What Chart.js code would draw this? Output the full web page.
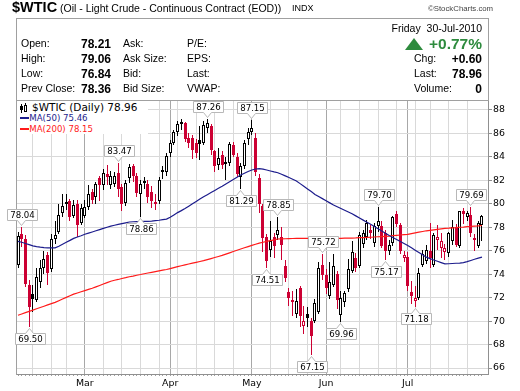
<!DOCTYPE html>
<html>
<head>
<meta charset="utf-8">
<script src="https://cdn.jsdelivr.net/npm/chart.js@4.4.1/dist/chart.umd.min.js"></script>
<style>
  html, body { margin: 0; padding: 0; background: #fff; }
  #wrap { position: relative; width: 520px; height: 391px; overflow: hidden; font-family: "Liberation Sans", Arial, sans-serif; color: #000; }
  #c { position: absolute; left: 0; top: 0; }
  .t { position: absolute; white-space: nowrap; line-height: 1; font-size: 10.5px; }
  .b { font-weight: bold; font-size: 12px; }
  .r { text-align: right; }
  #box { position: absolute; left: 16px; top: 18px; width: 473px; height: 83px; box-sizing: border-box; border: 1px solid #a0a0a0; }
  #legend { position: absolute; left: 17px; top: 101px; width: 131px; height: 33px; background: #fff; font-family: "DejaVu Sans", sans-serif; }
  #legend .t { font-family: "DejaVu Sans", sans-serif; }
  #tri { position: absolute; left: 405px; top: 38px; width: 0; height: 0; border-left: 9px solid transparent; border-right: 9px solid transparent; border-bottom: 12px solid #2e8b3e; }
</style>
</head>
<body>
<div id="wrap">
  <canvas id="c" width="520" height="391"></canvas>

  <div id="box"></div>
  <span class="t" style="left:12px;top:-0.5px;font-size:14.5px;font-weight:bold;">$WTIC</span>
  <span class="t" style="left:60px;top:2.5px;">(Oil - Light Crude - Continuous Contract (EOD))</span>
  <span class="t" style="left:292px;top:3.5px;font-size:9px;">INDX</span>
  <span class="t" style="left:428px;top:4.5px;font-size:7.8px;color:#444;">©StockCharts.com</span>

  <span class="t r" style="right:38px;top:22.5px;">Friday&nbsp; 30-Jul-2010</span>

  <span class="t" style="left:21px;top:38.2px;">Open:</span>
  <span class="t" style="left:21px;top:53.2px;">High:</span>
  <span class="t" style="left:21px;top:68.2px;">Low:</span>
  <span class="t" style="left:21px;top:83.2px;">Prev Close:</span>

  <span class="t b" style="left:81px;top:37.5px;">78.21</span>
  <span class="t b" style="left:81px;top:52.5px;">79.06</span>
  <span class="t b" style="left:81px;top:67.5px;">76.84</span>
  <span class="t b" style="left:81px;top:82.5px;">78.36</span>

  <span class="t" style="left:123px;top:38.2px;">Ask:</span>
  <span class="t" style="left:123px;top:53.2px;">Ask Size:</span>
  <span class="t" style="left:123px;top:68.2px;">Bid:</span>
  <span class="t" style="left:123px;top:83.2px;">Bid Size:</span>

  <span class="t" style="left:187px;top:38.2px;">P/E:</span>
  <span class="t" style="left:187px;top:53.2px;">EPS:</span>
  <span class="t" style="left:187px;top:68.2px;">Last:</span>
  <span class="t" style="left:187px;top:83.2px;">VWAP:</span>

  <div id="tri"></div>
  <span class="t b r" style="right:38px;top:35.8px;font-size:15.5px;color:#2e8b3e;">+0.77%</span>
  <span class="t" style="left:414px;top:53.2px;">Chg:</span>
  <span class="t" style="left:414px;top:68.2px;">Last:</span>
  <span class="t" style="left:414px;top:83.2px;">Volume:</span>
  <span class="t b r" style="right:38px;top:52.5px;">+0.60</span>
  <span class="t b r" style="right:38px;top:67.5px;">78.96</span>
  <span class="t b r" style="right:38px;top:82.5px;">0</span>

  <div id="legend">
    <span style="position:absolute;left:4px;top:3px;width:1px;height:9px;background:#000;"></span>
    <span style="position:absolute;left:3px;top:5px;width:3px;height:4px;background:#000;"></span>
    <span style="position:absolute;left:8px;top:2px;width:1px;height:9px;background:#000;"></span>
    <span style="position:absolute;left:7px;top:4px;width:1px;height:5px;border:1px solid #000;background:#fff;"></span>
    <span class="t" style="left:15px;top:1.4px;font-size:10.5px;">$WTIC (Daily) 78.96</span>
    <span style="position:absolute;left:3px;top:16px;width:9px;height:2px;background:#1c1c8c;"></span>
    <span class="t" style="left:12.3px;top:13.1px;font-size:8.6px;color:#1c1c8c;">MA(50) 75.46</span>
    <span style="position:absolute;left:3px;top:27px;width:9px;height:2px;background:#ff1a1a;"></span>
    <span class="t" style="left:12.3px;top:24.1px;font-size:8.6px;color:#ff1a1a;">MA(200) 78.15</span>
  </div>
</div>

<script>
// trading days shown (MM-DD, 2010)
const days = [
  '02-02','02-03','02-04','02-05','02-08','02-09','02-10','02-11','02-12','02-16','02-17','02-18','02-19','02-22','02-23','02-24','02-25','02-26',
  '03-01','03-02','03-03','03-04','03-05','03-08','03-09','03-10','03-11','03-12','03-15','03-16','03-17','03-18','03-19','03-22','03-23','03-24','03-25','03-26','03-29','03-30','03-31',
  '04-01','04-02','04-05','04-06','04-07','04-08','04-09','04-12','04-13','04-14','04-15','04-16','04-19','04-20','04-21','04-22','04-23','04-26','04-27','04-28','04-29','04-30',
  '05-03','05-04','05-05','05-06','05-07','05-10','05-11','05-12','05-13','05-14','05-17','05-18','05-19','05-20','05-21','05-24','05-25','05-26','05-27','05-28',
  '06-01','06-02','06-03','06-04','06-07','06-08','06-09','06-10','06-11','06-14','06-15','06-16','06-17','06-18','06-21','06-22','06-23','06-24','06-25','06-28','06-29','06-30',
  '07-01','07-02','07-06','07-07','07-08','07-09','07-12','07-13','07-14','07-15','07-16','07-19','07-20','07-21','07-22','07-23','07-26','07-27','07-28','07-29','07-30'
];

const opens = [
  74.8, 77.4, 77.0, 73.1, 72.3, 71.8, 73.3, 74.5, 75.6, 74.4,
  77.0, 77.6, 79.2, 80.0, 80.2, 79.0, 80.0, 78.4, 79.0, 79.7,
  81.0, 80.6, 82.2, 81.6, 82.5, 81.6, 81.7, 82.6, 81.4, 80.1,
  82.2, 83.2, 82.4, 80.8, 81.95, 81.7, 81.0, 80.0, 80.2, 82.9,
  82.75, 84.3, 85.2, 86.1, 86.95, 86.9, 85.6, 85.6, 85.2, 85.4,
  85.2, 86.5, 86.6, 84.5, 83.3, 84.2, 83.6, 83.5, 85.0, 84.0,
  82.3, 83.2, 85.5, 86.1, 85.6, 82.2, 79.8, 77.2, 76.1, 77.2,
  77.3, 77.2, 74.7, 72.5, 71.8, 70.6, 72.8, 69.6, 70.6, 70.0,
  70.0, 70.8, 74.8, 73.9, 72.1, 73.1, 74.0, 70.55, 71.6, 72.7,
  74.3, 75.4, 74.7, 76.6, 77.2, 77.8, 76.65, 78.1, 78.1, 77.5,
  75.95, 76.65, 79.1, 78.2, 75.4, 75.5, 72.5, 71.75, 72.0, 74.8,
  75.1, 76.0, 74.8, 76.9, 76.2, 75.9, 75.8, 76.8, 78.0, 76.4,
  79.4, 78.9, 79.06, 77.1, 76.4, 78.21
];
const highs = [
  77.6, 78.04, 77.3, 73.5, 73.1, 74.5, 75.2, 76.0, 75.9, 77.4,
  78.5, 80.0, 80.8, 80.8, 80.4, 80.3, 80.3, 80.0, 80.3, 81.6,
  81.3, 81.9, 82.4, 83.0, 83.3, 82.8, 82.7, 83.47, 81.7, 82.0,
  83.4, 83.4, 82.6, 82.0, 82.3, 82.0, 81.5, 80.8, 82.3, 83.2,
  84.3, 85.4, 86.3, 87.1, 87.2, 87.0, 86.0, 85.9, 85.5, 86.6,
  87.1, 87.26, 86.8, 84.6, 84.8, 84.5, 84.0, 85.3, 85.3, 84.3,
  83.5, 85.4, 86.5, 87.15, 86.0, 82.5, 80.0, 77.4, 78.5, 77.5,
  78.85, 78.0, 75.2, 72.8, 72.6, 72.7, 73.0, 71.3, 71.2, 70.3,
  71.9, 75.0, 75.72, 74.4, 75.0, 75.7, 74.3, 72.6, 72.6, 75.3,
  76.8, 75.8, 77.6, 77.8, 78.6, 78.2, 78.4, 79.70, 78.5, 77.8,
  76.9, 79.0, 79.4, 78.4, 76.0, 75.9, 73.4, 73.0, 74.5, 76.1,
  76.5, 78.4, 77.5, 78.2, 77.5, 76.6, 77.6, 78.6, 78.3, 79.4,
  79.6, 79.4, 79.69, 77.4, 78.5, 79.06
];
const lows = [
  74.5, 76.3, 72.9, 69.50, 70.8, 71.6, 72.8, 74.0, 73.1, 74.2,
  76.6, 77.4, 78.9, 79.5, 78.5, 78.8, 77.2, 78.2, 78.8, 79.5,
  80.0, 80.0, 80.2, 81.2, 81.6, 81.3, 81.4, 80.6, 79.4, 79.8,
  81.8, 81.9, 80.6, 78.86, 81.3, 80.1, 79.6, 79.5, 80.0, 82.1,
  82.4, 84.0, 85.0, 85.8, 86.3, 85.3, 84.8, 83.8, 83.9, 83.7,
  85.0, 86.0, 84.2, 82.75, 82.9, 83.0, 82.0, 83.2, 84.0, 82.3,
  81.29, 83.0, 85.0, 85.9, 82.4, 79.2, 75.9, 74.51, 75.5, 75.4,
  76.9, 75.2, 73.3, 71.3, 70.4, 70.3, 69.5, 68.9, 69.5, 67.15,
  69.8, 70.6, 73.5, 72.3, 71.9, 72.9, 71.0, 69.96, 71.2, 72.5,
  74.1, 74.2, 74.5, 76.2, 76.9, 77.0, 76.3, 77.6, 76.2, 75.17,
  75.6, 76.4, 78.0, 75.7, 75.0, 72.6, 71.5, 71.18, 71.8, 74.6,
  74.9, 74.5, 74.6, 76.1, 75.4, 75.2, 75.5, 76.5, 76.3, 76.2,
  78.3, 78.5, 77.2, 76.0, 76.2, 76.84
];
const closes = [
  77.23, 76.98, 73.14, 71.19, 71.89, 73.75, 74.52, 75.28, 74.13, 77.01,
  77.33, 79.06, 79.81, 80.16, 78.86, 79.94, 78.17, 79.66, 79.70, 80.87,
  80.3, 81.7, 81.6, 82.6, 82.3, 82.35, 82.4, 81.3, 80.0, 81.8,
  83.1, 82.4, 80.9, 81.7, 81.85, 80.6, 80.2, 80.15, 82.0, 82.7,
  84.1, 85.2, 86.1, 86.8, 86.85, 85.5, 85.2, 84.6, 84.34, 85.1,
  86.7, 86.9, 84.6, 83.2, 83.9, 83.3, 83.4, 85.12, 84.2, 82.5,
  83.2, 85.17, 86.15, 86.5, 82.74, 79.97, 77.11, 75.11, 76.8, 76.37,
  77.8, 76.5, 73.7, 72.0, 71.6, 71.7, 70.4, 70.0, 70.3, 68.75,
  71.51, 74.55, 73.97, 72.8, 73.3, 74.7, 71.8, 72.0, 72.4, 74.4,
  75.9, 74.5, 77.3, 77.5, 78.4, 77.5, 78.1, 78.5, 76.4, 75.95,
  76.5, 78.86, 78.26, 75.94, 75.63, 73.0, 72.14, 71.98, 74.07, 75.7,
  76.09, 75.4, 77.3, 77.2, 76.8, 76.2, 77.5, 78.0, 76.5, 79.35,
  79.1, 79.2, 77.50, 76.9, 78.36, 78.96
];

const ma50 = [
  76.80, 76.72, 76.62, 76.52, 76.42, 76.35, 76.30, 76.27, 76.25, 76.24,
  76.25, 76.38, 76.55, 76.72, 76.88, 77.05, 77.17, 77.28, 77.40, 77.50,
  77.60, 77.70, 77.80, 77.90, 78.00, 78.10, 78.17, 78.24, 78.31, 78.38,
  78.45, 78.47, 78.48, 78.49, 78.50, 78.50, 78.52, 78.56, 78.60, 78.65,
  78.70, 78.85, 79.05, 79.25, 79.42, 79.60, 79.80, 80.00, 80.20, 80.40,
  80.60, 80.78, 80.96, 81.14, 81.32, 81.50, 81.69, 81.88, 82.07, 82.26,
  82.45, 82.60, 82.75, 82.88, 82.97, 83.00, 82.95, 82.88, 82.80, 82.72,
  82.65, 82.52, 82.38, 82.24, 82.10, 81.95, 81.72, 81.50, 81.27, 81.04,
  80.80, 80.62, 80.44, 80.26, 80.08, 79.90, 79.75, 79.60, 79.45, 79.30,
  79.15, 78.97, 78.79, 78.61, 78.43, 78.25, 78.06, 77.87, 77.68, 77.49,
  77.30, 77.13, 76.96, 76.79, 76.62, 76.45, 76.25, 76.05, 75.85, 75.65,
  75.45, 75.33, 75.21, 75.10, 74.99, 74.88, 74.89, 74.91, 74.93, 74.95,
  74.98, 75.07, 75.17, 75.27, 75.37, 75.46
];
const ma200 = [
  70.50, 70.61, 70.72, 70.83, 70.94, 71.05, 71.16, 71.27, 71.38, 71.49,
  71.60, 71.74, 71.88, 72.02, 72.16, 72.30, 72.40, 72.50, 72.60, 72.70,
  72.80, 72.92, 73.04, 73.16, 73.28, 73.40, 73.48, 73.55, 73.63, 73.70,
  73.78, 73.84, 73.91, 73.97, 74.04, 74.10, 74.16, 74.22, 74.28, 74.34,
  74.40, 74.48, 74.56, 74.64, 74.72, 74.80, 74.87, 74.94, 75.01, 75.08,
  75.15, 75.24, 75.33, 75.42, 75.51, 75.60, 75.71, 75.82, 75.93, 76.04,
  76.15, 76.25, 76.35, 76.45, 76.55, 76.65, 76.72, 76.79, 76.86, 76.93,
  77.00, 77.01, 77.02, 77.03, 77.04, 77.05, 77.05, 77.05, 77.05, 77.05,
  77.05, 77.05, 77.05, 77.05, 77.05, 77.05, 77.06, 77.06, 77.07, 77.07,
  77.08, 77.09, 77.11, 77.12, 77.14, 77.15, 77.17, 77.19, 77.21, 77.23,
  77.25, 77.28, 77.31, 77.34, 77.37, 77.40, 77.46, 77.52, 77.58, 77.64,
  77.70, 77.74, 77.78, 77.82, 77.86, 77.90, 77.92, 77.95, 77.97, 78.00,
  78.02, 78.05, 78.07, 78.10, 78.12, 78.15
];

const priceTicks = [66, 68, 70, 72, 74, 76, 78, 80, 82, 84, 86, 88];
const monthNames = ['Jan','Feb','Mar','Apr','May','Jun','Jul','Aug','Sep','Oct','Nov','Dec'];

// high / low callouts (index into the day list)
const calloutIdx  = [1, 3, 27, 33, 51, 60, 63, 67, 70, 79, 82, 87, 97, 99, 107, 122];
const calloutSide = ['high','low','high','low','high','low','high','low','high','low','high','low','high','low','low','high'];

const UP = '#000000';
const DOWN = '#cc0033';

const idx = days.map((d, i) => i);
const candleColor = closes.map((c, i) => (i === 0 || c >= closes[i - 1]) ? UP : DOWN);

const dow = d => new Date('2010-' + d + 'T00:00:00Z').getUTCDay();
const monthStart = {};
const weekStart = new Set();
days.forEach((d, i) => {
  if (i === 0) return;
  const m = +d.slice(0, 2);
  if (m !== +days[i - 1].slice(0, 2)) monthStart[i] = monthNames[m - 1];
  else if (dow(d) < dow(days[i - 1])) weekStart.add(i);
});

// snap bars onto whole pixels so wicks stay 1px sharp
const crispBars = {
  id: 'crispBars',
  afterDatasetsUpdate(chart) {
    chart.getSortedVisibleDatasetMetas().forEach(meta => {
      if (meta.type !== 'bar') return;
      const minH = meta.controller.getDataset().label === 'body' ? 2 : 1;
      meta.data.forEach(el => {
        let a = Math.round(el.y), b = Math.round(el.base);
        if (Math.abs(a - b) < minH) { if (a <= b) b = a + minH; else a = b + minH; }
        el.x = Math.floor(el.x) + 0.5;
        el.y = a;
        el.base = b;
      });
    });
  }
};

const frame = {
  id: 'frame',
  afterDraw(chart) {
    const { ctx, chartArea: a } = chart;
    ctx.save();
    ctx.strokeStyle = '#a0a0a0';
    ctx.lineWidth = 1;
    ctx.beginPath();
    ctx.moveTo(a.left - 0.5, a.top);
    ctx.lineTo(a.left - 0.5, a.bottom + 1);
    ctx.stroke();
    ctx.restore();
  }
};

function bubble(ctx, px, py, text, above) {
  const w = Math.ceil(ctx.measureText(text).width) + 5;
  const h = 11;
  const x = Math.floor(px) + 0.5;
  const left = Math.round(x - w / 2) + 0.5;
  const tip = above ? Math.round(py) - 1.5 : Math.round(py) + 1.5;
  const top = above ? tip - 5 - h : tip + 5;
  const bot = top + h;
  ctx.beginPath();
  if (above) {
    ctx.moveTo(left, top);
    ctx.lineTo(left + w, top);
    ctx.lineTo(left + w, bot);
    ctx.lineTo(x + 4, bot);
    ctx.lineTo(x, tip);
    ctx.lineTo(x - 4, bot);
    ctx.lineTo(left, bot);
  } else {
    ctx.moveTo(left, top);
    ctx.lineTo(x - 4, top);
    ctx.lineTo(x, tip);
    ctx.lineTo(x + 4, top);
    ctx.lineTo(left + w, top);
    ctx.lineTo(left + w, bot);
    ctx.lineTo(left, bot);
  }
  ctx.closePath();
  ctx.fillStyle = '#fff';
  ctx.fill();
  ctx.strokeStyle = '#b8b8b8';
  ctx.stroke();
  ctx.fillStyle = '#000';
  ctx.fillText(text, left + w / 2, top + h / 2 + 0.5);
}

const callouts = {
  id: 'callouts',
  afterDraw(chart) {
    const { ctx, scales: { x, y } } = chart;
    ctx.save();
    ctx.font = '8.6px "DejaVu Sans"';
    ctx.textAlign = 'center';
    ctx.textBaseline = 'middle';
    ctx.lineWidth = 1;
    calloutIdx.forEach((i, k) => {
      const above = calloutSide[k] === 'high';
      const v = above ? highs[i] : lows[i];
      bubble(ctx, x.getPixelForValue(i), y.getPixelForValue(v), v.toFixed(2), above);
    });
    ctx.restore();
  }
};

Chart.defaults.font.family = '"DejaVu Sans", sans-serif';
Chart.defaults.color = '#000';

new Chart(document.getElementById('c'), {
  type: 'bar',
  data: {
    datasets: [
      {
        label: 'wick',
        data: idx.map(i => ({ x: i, y: [lows[i], highs[i]] })),
        backgroundColor: candleColor,
        borderWidth: 0,
        barThickness: 1,
        grouped: false,
        inflateAmount: 0,
        order: 3
      },
      {
        label: 'body',
        data: idx.map(i => ({ x: i, y: [opens[i], closes[i]] })),
        backgroundColor: idx.map(i => closes[i] < opens[i] ? candleColor[i] : '#ffffff'),
        borderColor: candleColor,
        borderWidth: 1,
        borderSkipped: false,
        barThickness: 3,
        grouped: false,
        inflateAmount: 0,
        order: 2
      },
      {
        type: 'line',
        label: 'MA(200)',
        data: idx.map(i => ({ x: i, y: ma200[i] })),
        borderColor: '#ff1a1a',
        borderWidth: 1.2,
        pointRadius: 0,
        tension: 0,
        order: 1
      },
      {
        type: 'line',
        label: 'MA(50)',
        data: idx.map(i => ({ x: i, y: ma50[i] })),
        borderColor: '#1c1c8c',
        borderWidth: 1.2,
        pointRadius: 0,
        tension: 0,
        order: 0
      }
    ]
  },
  options: {
    responsive: false,
    animation: false,
    devicePixelRatio: 1,
    layout: { padding: { left: 17, top: 100, right: 0, bottom: 0 } },
    plugins: { legend: { display: false }, tooltip: { enabled: false } },
    scales: {
      x: {
        type: 'linear',
        min: -0.27,
        max: 126.62,
        offset: false,
        afterBuildTicks: s => { s.ticks = idx.map(v => ({ value: v })); },
        afterFit: s => { s.height = 17; },
        grid: {
          offset: false,
          color: c => {
            const v = c.tick && c.tick.value;
            if (monthStart[v]) return '#a8a8a8';
            if (weekStart.has(v)) return '#d9d9d9';
            return 'rgba(0,0,0,0)';
          },
          tickColor: '#a0a0a0',
          tickLength: 2
        },
        border: { color: '#909090' },
        ticks: {
          autoSkip: false,
          maxRotation: 0,
          padding: 2,
          font: { size: 9.4 },
          callback: v => monthStart[v] || ''
        }
      },
      y: {
        position: 'right',
        min: 65.49,
        max: 88.85,
        afterBuildTicks: s => { s.ticks = priceTicks.map(v => ({ value: v })); },
        afterFit: s => { s.width = 32; },
        grid: { color: '#d9d9d9', tickColor: '#909090', tickLength: 4 },
        border: { color: '#909090' },
        ticks: { padding: 1, font: { size: 9.4 } }
      }
    }
  },
  plugins: [crispBars, frame, callouts]
});
</script>
</body>
</html>
